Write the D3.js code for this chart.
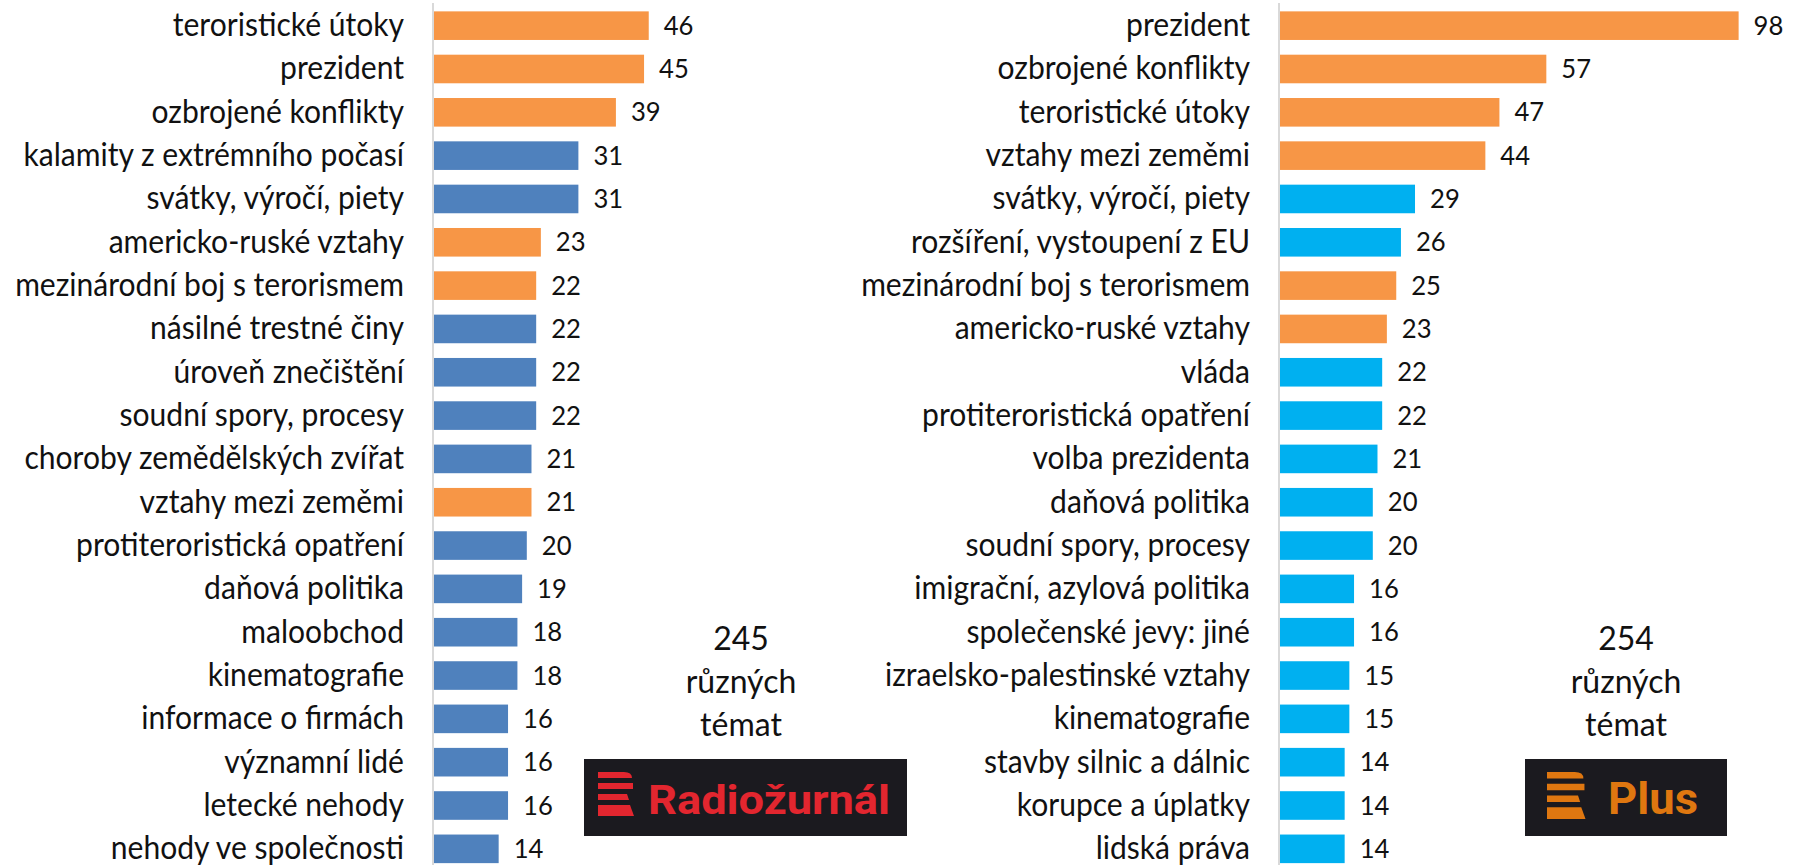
<!DOCTYPE html>
<html>
<head>
<meta charset="utf-8">
<script src="https://cdn.jsdelivr.net/npm/d3@7"></script>
<style>
  body { margin: 0; background: #fff; }
  svg { display: block; font-family: Lato, "Open Sans", sans-serif; }
</style>
</head>
<body>
<svg width="1796" height="865"></svg>
<script>

// Radiožurnál - top 20 topics
const rzTopics = [
    "teroristické útoky", "prezident", "ozbrojené konflikty",
    "kalamity z extrémního počasí", "svátky, výročí, piety",
    "americko-ruské vztahy", "mezinárodní boj s terorismem",
    "násilné trestné činy", "úroveň znečištění", "soudní spory, procesy",
    "choroby zemědělských zvířat", "vztahy mezi zeměmi",
    "protiteroristická opatření", "daňová politika", "maloobchod",
    "kinematografie", "informace o firmách", "významní lidé",
    "letecké nehody", "nehody ve společnosti"
];
const rzCounts = [46, 45, 39, 31, 31, 23, 22, 22, 22, 22, 21, 21, 20, 19, 18, 18, 16, 16, 16, 14];
// 1 = topic highlighted orange
const rzShared = [1, 1, 1, 0, 0, 1, 1, 0, 0, 0, 0, 1, 0, 0, 0, 0, 0, 0, 0, 0];
const rzTotal = "245";

// Plus - top 20 topics
const plusTopics = [
    "prezident", "ozbrojené konflikty", "teroristické útoky",
    "vztahy mezi zeměmi", "svátky, výročí, piety",
    "rozšíření, vystoupení z EU", "mezinárodní boj s terorismem",
    "americko-ruské vztahy", "vláda", "protiteroristická opatření",
    "volba prezidenta", "daňová politika", "soudní spory, procesy",
    "imigrační, azylová politika", "společenské jevy: jiné",
    "izraelsko-palestinské vztahy", "kinematografie",
    "stavby silnic a dálnic", "korupce a úplatky", "lidská práva"
];
const plusCounts = [98, 57, 47, 44, 29, 26, 25, 23, 22, 22, 21, 20, 20, 16, 16, 15, 15, 14, 14, 14];
const plusShared = [1, 1, 1, 1, 0, 0, 1, 1, 0, 0, 0, 0, 0, 0, 0, 0, 0, 0, 0, 0];
const plusTotal = "254";

const noteLines = ["různých", "témat"];

const ORANGE = "#F79646";

var svg = d3.select("svg");

// one value scale and one row scale for both panels
var x = d3.scaleLinear().domain([0, 100]).range([0, 469]);
var y = d3.scaleBand()
    .domain(d3.range(20))
    .range([4, 870.5])
    .paddingInner(0.34)
    .paddingOuter(0.17);

// pick a label size so the longest label is as wide as in the original
var labelSize = (function () {
    var t = svg.append("text")
        .style("font-size", "34px")
        .text("mezinárodní boj s terorismem");
    var w = t.node().getComputedTextLength();
    t.remove();
    return 34 * 389 / w;
})();
// the original font is a bit narrower than Lato: make it taller, squeeze it back
var stretch = 1.1;

function drawPanel(axisX, topics, counts, shared, ownColour, total, noteX) {
    var rows = topics.map((t, i) => ({ i: i, topic: t, value: counts[i], shared: shared[i] }));

    var g = svg.append("g")
        .attr("transform", "translate(" + axisX + ",0)");

    // bars
    g.selectAll("rect.bar")
        .data(rows)
        .enter().append("rect")
        .attr("class", "bar")
        .attr("x", 0)
        .attr("y", d => y(d.i))
        .attr("width", d => x(d.value))
        .attr("height", y.bandwidth())
        .attr("fill", d => d.shared ? ORANGE : ownColour);

    // vertical axis line
    g.append("line")
        .attr("x1", 0).attr("x2", 0)
        .attr("y1", 3).attr("y2", 865)
        .attr("stroke", "#d9d9d9")
        .attr("stroke-width", 2);

    // category labels
    g.selectAll("text.label")
        .data(rows)
        .enter().append("text")
        .attr("class", "label")
        .attr("transform", d => "translate(-29," + (y(d.i) + y.bandwidth() / 2 + 10.5) + ") scale(" + (1 / stretch) + ",1)")
        .attr("text-anchor", "end")
        .style("font-size", (labelSize * stretch) + "px")
        .attr("fill", "#111")
        .text(d => d.topic);

    // value labels
    g.selectAll("text.value")
        .data(rows)
        .enter().append("text")
        .attr("class", "value")
        .attr("transform", d => "translate(" + (x(d.value) + 15) + "," + (y(d.i) + y.bandwidth() / 2 + 9) + ") scale(0.95,1)")
        .style("font-size", "27px")
        .attr("fill", "#111")
        .text(d => d.value);

    // "NNN různých témat" note
    svg.append("text")
        .attr("x", noteX)
        .attr("y", 650)
        .attr("text-anchor", "middle")
        .style("font-size", "32px")
        .attr("fill", "#111")
        .selectAll("tspan")
        .data([total].concat(noteLines))
        .enter().append("tspan")
        .attr("x", noteX)
        .attr("dy", (d, i) => i ? 43 : 0)
        .text(d => d);
}

// stylised station logo: dark box, striped "R" sign, station name
function drawLogo(bx, by, bw, bh, colour, name, nameX, nameW, nameSize, iconX, iconS) {
    var g = svg.append("g");
    g.append("rect")
        .attr("x", bx).attr("y", by)
        .attr("width", bw).attr("height", bh)
        .attr("fill", "#1b1a1f");

    var stripes = [
        "M0,0 H26 Q34,0 34,6 H0 Z",
        "M0,11 H35 V17 H0 Z",
        "M0,22 H29 L31,28 H0 Z",
        "M0,33 H32 L36,44 H0 Z"
    ];
    g.selectAll("path")
        .data(stripes)
        .enter().append("path")
        .attr("d", d => d)
        .attr("transform", "translate(" + iconX + "," + (by + 13) + ") scale(" + iconS + ")")
        .attr("fill", colour);

    g.append("text")
        .attr("x", nameX)
        .attr("y", by + bh - 22)
        .attr("textLength", nameW)
        .attr("lengthAdjust", "spacingAndGlyphs")
        .style("font-family", "Roboto, Lato, sans-serif")
        .style("font-weight", 700)
        .style("font-size", nameSize + "px")
        .attr("fill", colour)
        .text(name);
}

drawPanel(433, rzTopics, rzCounts, rzShared, "#4F81BD", rzTotal, 741);
drawPanel(1279, plusTopics, plusCounts, plusShared, "#00B0F0", plusTotal, 1626);

drawLogo(584, 759, 323, 77, "#e3262f", "Radiožurnál", 648, 242, 40, 598, 1);
drawLogo(1525, 759, 202, 77, "#df7710", "Plus", 1608, 90, 45, 1547, 1.07);

</script>
</body>
</html>
